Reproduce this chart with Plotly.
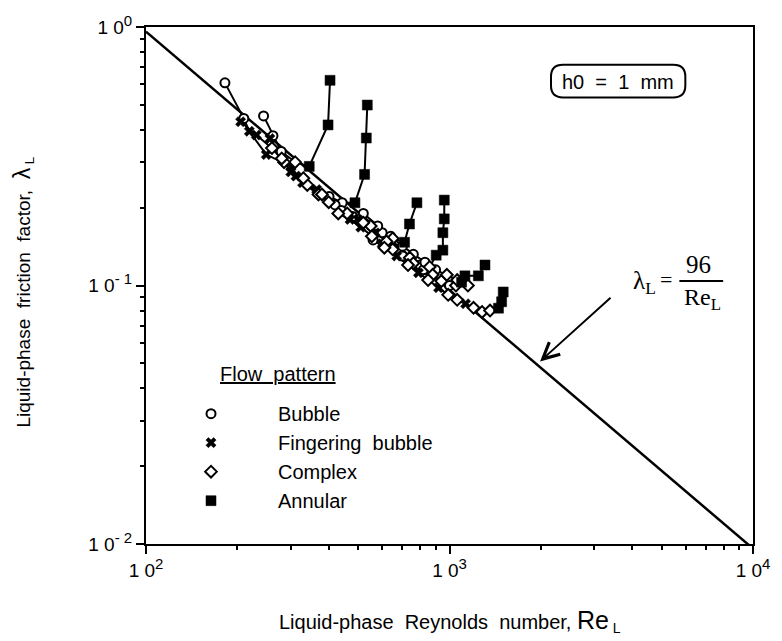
import plotly.graph_objects as go

# ---------------- data ----------------
# Each run: liquid Reynolds number, friction factor, flow pattern code
# B = Bubble, F = Fingering bubble, C = Complex, A = Annular
run1_re  = [182, 210, 219, 249, 300, 328, 370, 401, 443, 488, 525, 532, 536]
run1_lam = [0.608, 0.443, 0.395, 0.321, 0.289, 0.250, 0.225, 0.221, 0.209, 0.209, 0.269, 0.372, 0.499]
run1_pat = ["B", "B", "F", "F", "F", "F", "C", "B", "B", "A", "A", "A", "A"]

run2_re  = [244, 262, 279, 310, 345, 398, 404]
run2_lam = [0.453, 0.380, 0.330, 0.300, 0.289, 0.418, 0.622]
run2_pat = ["B", "B", "B", "C", "A", "A", "A"]

run3_re  = [205, 231, 260, 285, 312, 340, 380, 420, 460, 500, 550, 600, 650, 711, 738, 781]
run3_lam = [0.430, 0.382, 0.340, 0.300, 0.265, 0.245, 0.225, 0.205, 0.190, 0.180, 0.170, 0.160, 0.152, 0.147, 0.173, 0.209]
run3_pat = ["F", "F", "C", "C", "F", "C", "C", "B", "C", "F", "C", "B", "C", "A", "A", "A"]

run4_re  = [256, 280, 300, 330, 365, 400, 440, 480, 520, 570, 620, 680, 740, 800, 860, 904, 951, 951, 961, 961]
run4_lam = [0.370, 0.310, 0.275, 0.260, 0.235, 0.210, 0.195, 0.185, 0.175, 0.160, 0.148, 0.138, 0.128, 0.120, 0.118, 0.131, 0.137, 0.160, 0.181, 0.214]
run4_pat = ["F", "C", "F", "C", "F", "C", "B", "B", "C", "F", "C", "B", "C", "B", "C", "A", "A", "A", "A", "A"]

run5_re  = [430, 470, 510, 555, 600, 650, 700, 760, 820, 880, 940, 1000, 1050, 1096, 1124, 1245, 1309]
run5_lam = [0.190, 0.180, 0.168, 0.155, 0.145, 0.138, 0.130, 0.122, 0.115, 0.110, 0.104, 0.100, 0.100, 0.103, 0.109, 0.109, 0.120]
run5_pat = ["C", "F", "F", "C", "F", "C", "B", "C", "B", "C", "C", "B", "C", "A", "A", "A", "A"]

run6_re  = [560, 610, 670, 730, 790, 850, 920, 990, 1060, 1130, 1200, 1280, 1360, 1450, 1485, 1503]
run6_lam = [0.150, 0.140, 0.130, 0.120, 0.112, 0.105, 0.098, 0.092, 0.088, 0.085, 0.082, 0.079, 0.080, 0.0817, 0.0865, 0.0944]
run6_pat = ["B", "C", "F", "C", "F", "C", "F", "C", "C", "F", "C", "C", "C", "A", "A", "A"]

run7_re  = [520, 580, 640, 700, 760, 830, 900, 980, 1060, 1150]
run7_lam = [0.190, 0.170, 0.155, 0.142, 0.132, 0.123, 0.115, 0.110, 0.105, 0.100]
run7_pat = ["B", "B", "B", "B", "B", "B", "B", "C", "C", "C"]

runs = [
    (run1_re, run1_lam, run1_pat),
    (run2_re, run2_lam, run2_pat),
    (run3_re, run3_lam, run3_pat),
    (run4_re, run4_lam, run4_pat),
    (run5_re, run5_lam, run5_pat),
    (run6_re, run6_lam, run6_pat),
    (run7_re, run7_lam, run7_pat),
]

pattern_codes  = ["B", "F", "C", "A"]
pattern_names  = ["Bubble", "Fingering  bubble", "Complex", "Annular"]

laminar_re = [100, 10000]
laminar_lam = [96 / r for r in laminar_re]

x_tickvals = [100, 1000, 10000]
x_exponents = ["2", "3", "4"]
y_tickvals = [0.01, 0.1, 1]
y_exponents = ["- 2", "- 1", "0"]

SUP = "<sup><span style='font-size:15px'>{}</span></sup>"
x_ticktext = ["1 0" + SUP.format(e) for e in x_exponents]
y_ticktext = ["1 0" + SUP.format(e) for e in y_exponents]

# ---------------- figure ----------------
W, H = 782, 641
L, R, T, B = 146, 26, 23, 97
PW, PH = W - L - R, H - T - B

def px(x):
    return (x - L) / PW

def py(y):
    return (H - B - y) / PH

SANS = "Liberation Sans, Arial, Helvetica, sans-serif"
SERIF = "Liberation Serif, Times New Roman, serif"

fig = go.Figure()

# laminar 96/Re line
fig.add_trace(go.Scatter(x=laminar_re, y=laminar_lam, mode="lines",
                         line=dict(color="black", width=2.5), showlegend=False,
                         hoverinfo="skip"))

# connecting lines of each run
for re_, lam_, pat_ in runs:
    fig.add_trace(go.Scatter(x=re_, y=lam_, mode="lines",
                             line=dict(color="black", width=2), showlegend=False,
                             hoverinfo="skip"))

marker_styles = {
    "B": dict(symbol="circle", size=9, color="white", line=dict(color="black", width=2)),
    "F": dict(symbol="x", size=9, color="black", line=dict(color="black", width=0.5)),
    "C": dict(symbol="diamond", size=9, color="white", line=dict(color="black", width=2)),
    "A": dict(symbol="square", size=10, color="black", line=dict(color="black", width=0.5)),
}

for code, name in zip(pattern_codes, pattern_names):
    xs, ys = [], []
    for re_, lam_, pat_ in runs:
        for r, l, p in zip(re_, lam_, pat_):
            if p == code:
                xs.append(r)
                ys.append(l)
    fig.add_trace(go.Scatter(x=xs, y=ys, mode="markers", name=name,
                             marker=marker_styles[code], legendgroup=code))

axis_common = dict(
    type="log", showgrid=False, zeroline=False, showline=True, linecolor="black",
    linewidth=2, mirror=True, ticks="outside", ticklen=8, tickwidth=1.5,
    tickcolor="black", tickfont=dict(family=SANS, size=19, color="black"),
    tickmode="array",
)

fig.update_layout(
    width=W, height=H,
    margin=dict(l=L, r=R, t=T, b=B, pad=0),
    paper_bgcolor="white", plot_bgcolor="white",
    xaxis=dict(range=[2, 4], tickvals=x_tickvals, ticktext=x_ticktext,
               minor=dict(tickvals=[200, 300, 400, 500, 600, 700, 800, 900,
                                    2000, 3000, 4000, 5000, 6000, 7000, 8000, 9000],
                          ticks="outside", ticklen=4, tickwidth=1.5, tickcolor="black"),
               **axis_common),
    yaxis=dict(range=[-2, 0], tickvals=y_tickvals, ticktext=y_ticktext,
               minor=dict(tickvals=[0.02, 0.03, 0.04, 0.05, 0.06, 0.07, 0.08, 0.09,
                                    0.2, 0.3, 0.4, 0.5, 0.6, 0.7, 0.8, 0.9],
                          ticks="outside", ticklen=4, tickwidth=1.5, tickcolor="black"),
               **axis_common),
    showlegend=True,
    legend=dict(x=px(144), y=py(393), xanchor="left", yanchor="top",
                bgcolor="rgba(0,0,0,0)", font=dict(family=SANS, size=20, color="black"),
                itemwidth=124, tracegroupgap=4, traceorder="normal"),
    font=dict(family=SANS, color="black"),
)

annotations = [
    # legend heading
    dict(x=px(218), y=py(373), xref="paper", yref="paper", xanchor="left", yanchor="middle",
         text="<u>Flow  pattern</u>", showarrow=False, font=dict(family=SANS, size=20, color="black")),
    # h0 box text
    dict(x=px(620), y=py(78), xref="paper", yref="paper", xanchor="center", yanchor="middle",
         text="h0  =  1  mm", showarrow=False, font=dict(family=SANS, size=20, color="black")),
    # formula
    dict(x=px(661), y=py(280), xref="paper", yref="paper", xanchor="right", yanchor="middle",
         text="λ<sub>L</sub>", showarrow=False, font=dict(family=SERIF, size=25, color="black")),
    dict(x=px(669), y=py(277), xref="paper", yref="paper", xanchor="center", yanchor="middle",
         text="=", showarrow=False, font=dict(family=SERIF, size=22, color="black")),
    dict(x=px(701), y=py(262), xref="paper", yref="paper", xanchor="center", yanchor="middle",
         text="96", showarrow=False, font=dict(family=SERIF, size=25, color="black")),
    dict(x=px(705), y=py(297), xref="paper", yref="paper", xanchor="center", yanchor="middle",
         text="Re<sub>L</sub>", showarrow=False, font=dict(family=SERIF, size=24, color="black")),
    # arrow to the laminar line
    dict(x=px(542), y=py(360), xref="paper", yref="paper", text="", showarrow=True,
         ax=72, ay=-65, arrowhead=5, arrowsize=1.6, arrowwidth=2, arrowcolor="black"),
    # axis titles
    dict(x=px(451), y=py(622), xref="paper", yref="paper", xanchor="center", yanchor="middle",
         text="Liquid-phase  Reynolds  number, <span style='font-size:25px'>Re</span><sub> L</sub>",
         showarrow=False, font=dict(family=SANS, size=20, color="black")),
    dict(x=px(22), y=py(290), xref="paper", yref="paper", xanchor="center", yanchor="middle",
         text="Liquid-phase  friction  factor,  <span style='font-size:23px'>λ</span><sub> L</sub>",
         textangle=-90, showarrow=False, font=dict(family=SANS, size=19, color="black")),
]
fig.update_layout(annotations=annotations)

# rounded box around h0 label
x0, x1, y0, y1 = px(553), px(688), py(94), py(61)
rx, ry = 12 / PW, 12 / PH
path = (f"M {x0+rx},{y0} L {x1-rx},{y0} Q {x1},{y0} {x1},{y0+ry} "
        f"L {x1},{y1-ry} Q {x1},{y1} {x1-rx},{y1} L {x0+rx},{y1} "
        f"Q {x0},{y1} {x0},{y1-ry} L {x0},{y0+ry} Q {x0},{y0} {x0+rx},{y0} Z")
shapes = [
    dict(type="path", path=path, xref="paper", yref="paper",
         line=dict(color="black", width=2)),
    # fraction bar
    dict(type="line", xref="paper", yref="paper", x0=px(682), x1=px(726),
         y0=py(279), y1=py(279), line=dict(color="black", width=2)),
]
fig.update_layout(shapes=shapes)

fig.write_html("out.html")
